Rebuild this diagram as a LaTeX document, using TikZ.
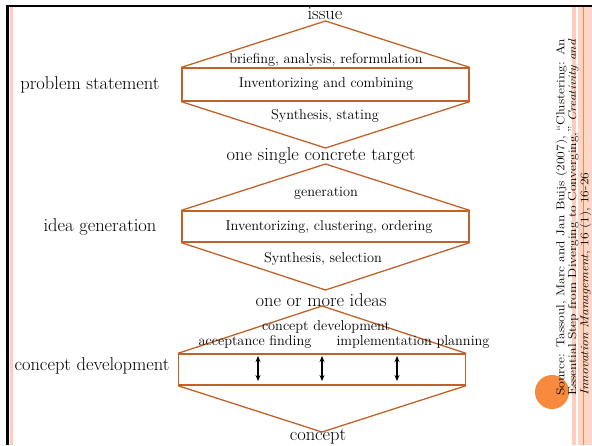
\documentclass[tikz,border=0pt]{standalone}
\usetikzlibrary{arrows.meta,positioning}
\definecolor{rim}{RGB}{193,98,42}
\definecolor{peach}{RGB}{255,205,188}
\definecolor{blob}{RGB}{247,138,60}
\tikzset{
  phase/.style={draw=rim, line width=1.3pt, minimum width=287pt, inner sep=0pt},
  wing/.style={draw=rim, line width=1.3pt},
  stage/.style={font=\fontsize{18.5}{20}\selectfont, inner sep=0pt},
  act/.style={font=\fontsize{14.3}{16}\selectfont, inner sep=0pt},
  updown/.style={{Stealth[length=6pt,width=5pt]}-{Stealth[length=6pt,width=5pt]}, line width=1.2pt},
  source/.style={font=\fontsize{11.5}{11.8}\selectfont, inner sep=0pt}
}
\begin{document}
\begin{tikzpicture}[x=1pt,y=-1pt]
  \useasboundingbox (0,0) rectangle (592,445);
  % slide frame
  \fill[peach] (10,7) rectangle (13,445);
  \fill[peach] (572,7) rectangle (576,445);
  \fill[peach!80] (578,7) rectangle (592,445);
  \draw[blob, line width=1pt] (583.5,7) -- (583.5,445);
  \draw[line width=2.5pt] (7.5,445) -- (7.5,6) -- (592,6);
  \fill[blob] (552,392) circle (17);

  % the three funnels
  \foreach \n/\x/\y/\h/\t/\b in {ps/325.5/84.5/33/21/148, ig/325.5/226.5/31/164/290, cd/322/369.5/31/306/432} {
    \node[phase, minimum height=\h pt] (\n) at (\x,\y) {};
    \coordinate (\n top) at (\x,\t);
    \coordinate (\n bot) at (\x,\b);
    \draw[wing] (\n.north west) -- (\n top) -- (\n.north east);
    \draw[wing] (\n.south west) -- (\n bot) -- (\n.south east);
  }

  \node[stage] (issue) at (325,14) {issue};
  \node[act] (brief) at (326,60) {briefing, analysis, reformulation};
  \node[act] (inv1) at (326,84) {Inventorizing and combining};
  \node[act] (syn1) at (325,116) {Synthesis, stating};
  \node[stage] (lps) at (90,85) {problem statement};

  \node[stage] (target) at (321,156) {one single concrete target};
  \node[act] (gen) at (326,193) {generation};
  \node[act] (inv2) at (329,227) {Inventorizing, clustering, ordering};
  \node[act] (syn2) at (323,259) {Synthesis, selection};
  \node[stage] (lig) at (100,227) {idea generation};

  \node[stage] (ideas) at (321,300) {one or more ideas};
  \node[act] (cdev) at (326,327) {concept development};
  \node[act] (accept) at (255,342) {acceptance finding};
  \node[act] (plan) at (413,342) {implementation planning};
  \node[stage] (lcd) at (92,366) {concept development};
  \node[stage] (concept) at (318,437) {concept};

  \foreach \x [count=\i] in {258,322,397} {
    \coordinate (u\i) at (\x,356);
    \coordinate (d\i) at (\x,381);
    \draw[updown] (u\i) -- (d\i);
  }

  \node[source, rotate=90, anchor=north west] (src) at (555.5,396)
    {\scalebox{1.18}[1]{\begin{tabular}{@{}l@{}}
      Source: Tassoul, Marc and Jan Buijs (2007), ``Clustering: An\\
      Essential Step from Diverging to Converging,'' \textit{Creativity and}\\
      \textit{Innovation Management}, 16 (1), 16-26
    \end{tabular}}};
\end{tikzpicture}
\end{document}
